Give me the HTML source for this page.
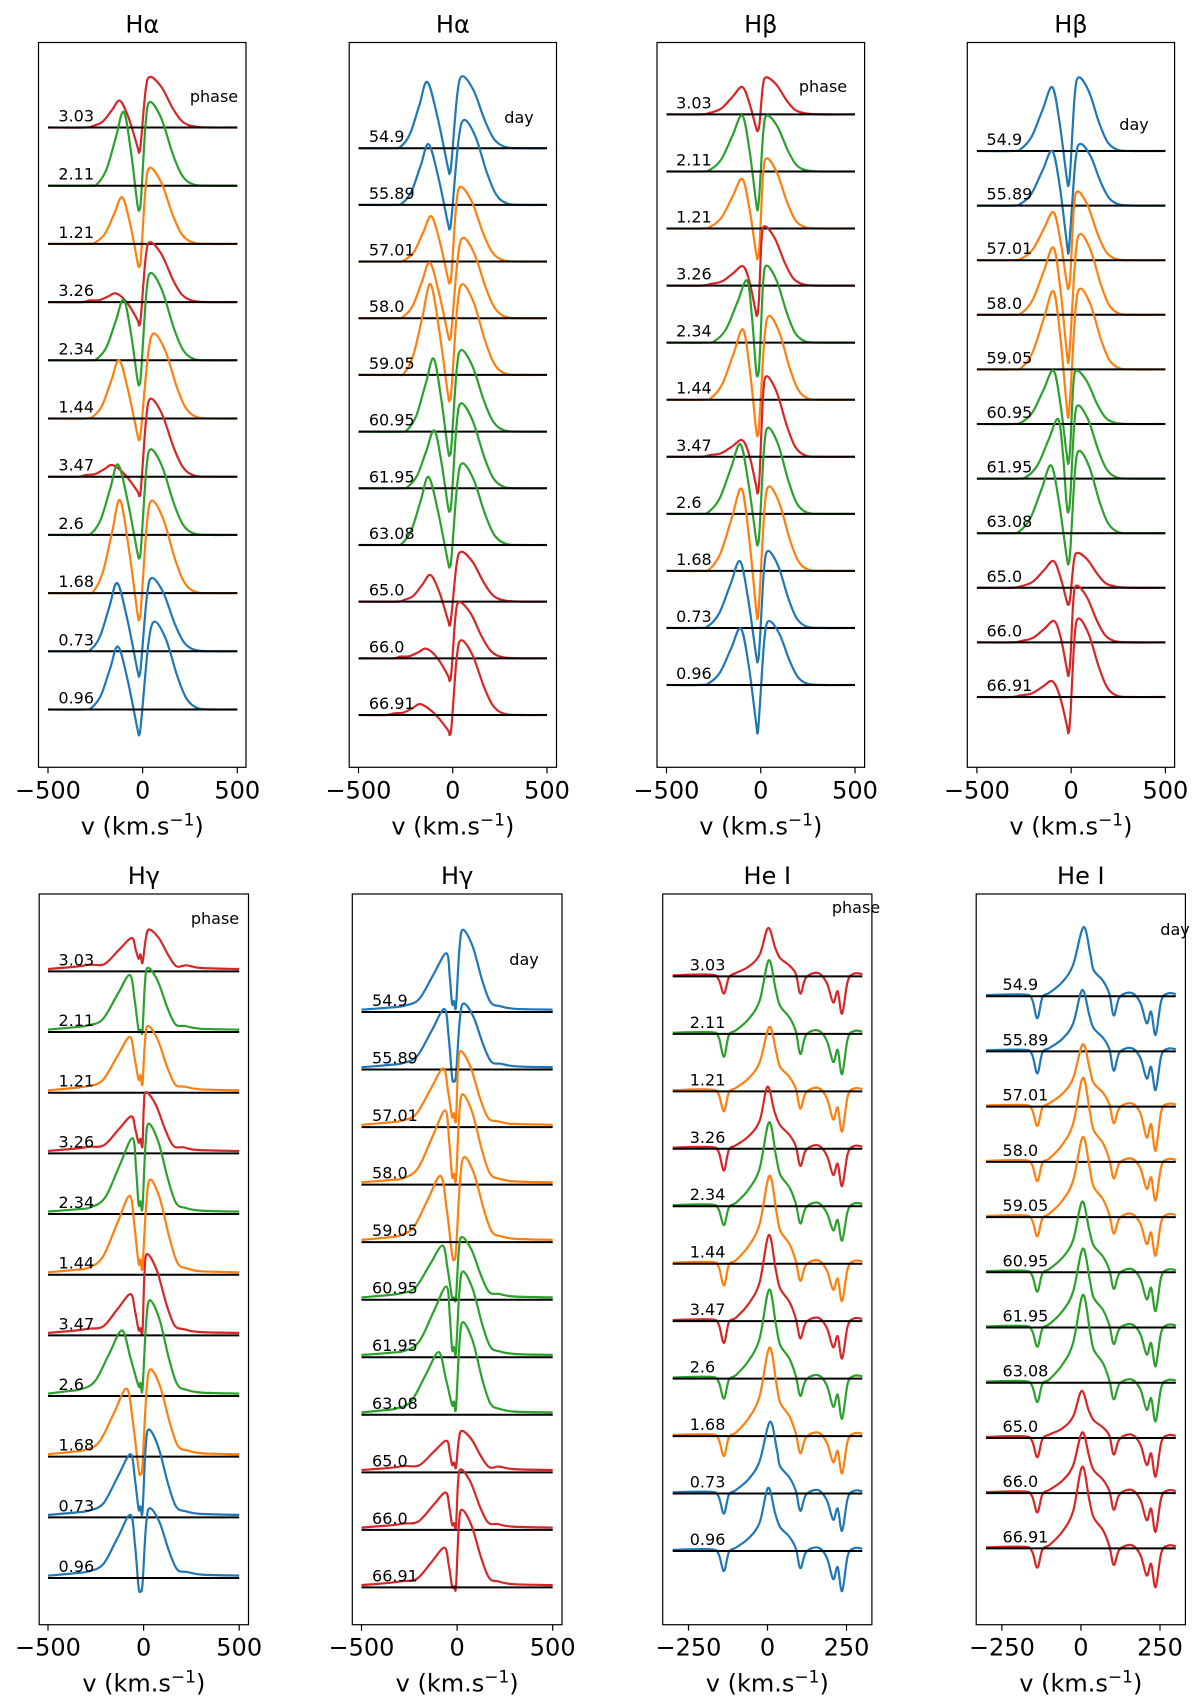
<!DOCTYPE html>
<html><head><meta charset="utf-8"><style>
html,body{margin:0;padding:0;background:#fff}
svg{display:block;font-family:"DejaVu Sans","Liberation Sans",sans-serif}
</style></head><body>
<svg id="fig" width="1200" height="1707" viewBox="0 0 1200 1707" xmlns="http://www.w3.org/2000/svg"></svg>
<script>
// ---- data ----
const phaseLabels = ["3.03","2.11","1.21","3.26","2.34","1.44","3.47","2.6","1.68","0.73","0.96"];
const dayLabels = ["54.9","55.89","57.01","58.0","59.05","60.95","61.95","63.08","65.0","66.0","66.91"];
const phaseColors = ["#d62728","#2ca02c","#ff7f0e","#d62728","#2ca02c","#ff7f0e","#d62728","#2ca02c","#ff7f0e","#1f77b4","#1f77b4"];
const dayColors = ["#1f77b4","#1f77b4","#ff7f0e","#ff7f0e","#ff7f0e","#2ca02c","#2ca02c","#2ca02c","#d62728","#d62728","#d62728"];
const balmerTicks = [-500,0,500];
const heTicks = [-250,0,250];
// [blueV, blueH, dipV, dipH, redV, redH]
const haPhase = [[-120,0.46,-18,-0.43,39,0.87],[-100,1.27,-18,-0.41,39,1.44],[-108,0.8,-18,-0.39,39,1.31],[-140,0.15,-18,-0.40,39,1.03],[-100,1.04,-18,-0.42,43,1.5],[-124,1.0,-18,-0.36,59,1.46],[-160,0.2,-18,-0.33,43,1.34],[-130,1.21,-18,-0.39,43,1.47],[-120,1.6,-18,-0.44,49,1.59],[-134,1.17,-18,-0.42,49,1.26],[-130,1.08,-18,-0.43,63,1.51]];
const haDay = [[-135,1.17,-16,-0.44,51,1.27],[-128,1.07,-16,-0.42,61,1.5],[-114,0.8,-16,-0.38,41,1.32],[-122,0.98,-16,-0.37,55,1.42],[-118,1.6,-16,-0.44,51,1.6],[-102,1.29,-16,-0.41,45,1.44],[-98,1.02,-16,-0.4,45,1.5],[-128,1.2,-16,-0.38,51,1.44],[-118,0.47,-16,-0.42,45,0.88],[-139,0.17,-16,-0.4,35,0.99],[-170,0.19,-16,-0.35,45,1.32]];
const hbPhase = [[-98,0.48,-16,-0.29,29,0.65],[-98,0.98,-16,-0.67,35,0.98],[-98,0.87,-16,-0.53,31,1.23],[-94,0.34,-20,-0.53,20,1.04],[-73,1.09,-16,-0.58,31,1.35],[-94,1.23,-16,-0.63,45,1.47],[-98,0.29,-16,-0.64,31,1.41],[-108,1.22,-16,-0.54,39,1.51],[-102,1.44,-16,-0.83,45,1.48],[-110,1.17,-16,-0.59,39,1.35],[-106,0.99,-16,-0.84,45,1.12]];
const hbDay = [[-100,1.17,-14,-0.63,41,1.35],[-100,1.0,-14,-0.87,49,1.13],[-94,0.88,-14,-0.52,33,1.26],[-94,1.23,-14,-0.87,49,1.48],[-94,1.43,-14,-0.87,49,1.48],[-94,0.98,-14,-0.72,29,0.98],[-69,1.09,-14,-0.61,37,1.34],[-106,1.24,-14,-0.56,43,1.51],[-94,0.49,-14,-0.31,33,0.64],[-90,0.39,-14,-0.61,29,1.04],[-100,0.29,-14,-0.66,39,1.44]];
const hgPhase = [[-62,0.55,-16,0.28,28,0.69],[-72,0.94,-16,0.04,22,1.06],[-72,0.92,-16,0.29,22,1.1],[-64,0.61,-16,0.24,12,1.01],[-58,1.25,-16,0.21,26,1.49],[-72,1.3,-16,0.25,34,1.57],[-68,0.68,-16,0.12,18,1.34],[-113,1.08,-16,0.22,32,1.58],[-88,1.12,-16,-0.28,36,1.44],[-68,1.04,-16,0.18,26,1.45],[-68,1.04,-16,-0.21,32,1.15]];
const hgDay = [[-56,1.02,-16,0.19,30,1.43],[-66,1.05,-16,-0.19,34,1.15],[-72,1.02,-16,0.24,18,1.32],[-62,1.29,-16,0.19,28,1.57],[-86,1.15,-16,-0.29,38,1.48],[-76,0.94,-16,0.04,24,1.09],[-56,1.23,-16,0.18,30,1.49],[-96,1.09,-16,0.23,30,1.61],[-56,0.55,-16,0.17,24,0.72],[-60,0.65,-16,0.12,18,1.05],[-66,0.69,-16,0.02,24,1.35]];
// [peakV, peakH, dip1H, dip2H, dip3H]
const hePhase = [[2,0.84,-0.3,-0.3,-0.65],[4,1.28,-0.4,-0.35,-0.7],[6,1.12,-0.35,-0.3,-0.7],[0,1.08,-0.38,-0.3,-0.65],[5,1.46,-0.33,-0.3,-0.6],[6,1.53,-0.38,-0.3,-0.65],[4,1.5,-0.38,-0.3,-0.65],[5,1.55,-0.35,-0.3,-0.7],[6,1.54,-0.35,-0.3,-0.65],[8,1.25,-0.35,-0.3,-0.65],[2,1.1,-0.35,-0.3,-0.7]];
const heDay = [[8,1.25,-0.4,-0.35,-0.7],[4,1.11,-0.4,-0.35,-0.7],[6,1.13,-0.35,-0.3,-0.8],[6,1.52,-0.35,-0.3,-0.7],[6,1.45,-0.35,-0.3,-0.7],[4,1.28,-0.35,-0.3,-0.7],[6,1.43,-0.35,-0.3,-0.7],[6,1.59,-0.35,-0.3,-0.7],[2,0.85,-0.35,-0.3,-0.7],[4,1.1,-0.35,-0.3,-0.7],[4,1.48,-0.35,-0.3,-0.7]];

const panels = [
 {name:"h-alpha-phase",title:"Hα",note:"phase",bx1:38.5,bx2:246,by1:42.5,by2:767.3,t0:48,t1:237.3,ticks:balmerTicks,b0:127.5,bN:709.5,data:haPhase,labels:phaseLabels,colors:phaseColors,kind:"b",wl:140,wr:200,base:0,lv:-445,nx:214,ny:102,range:500},
 {name:"h-alpha-day",title:"Hα",note:"day",bx1:349.2,bx2:556.5,by1:42.5,by2:767.3,t0:358.5,t1:547,ticks:balmerTicks,b0:148.2,bN:715,data:haDay,labels:dayLabels,colors:dayColors,kind:"b",wl:140,wr:200,base:0,lv:-445,nx:519,ny:123,range:500},
 {name:"h-beta-phase",title:"Hβ",note:"phase",bx1:657,bx2:864.6,by1:42.5,by2:767.3,t0:666.5,t1:855,ticks:balmerTicks,b0:114.4,bN:685,data:hbPhase,labels:phaseLabels,colors:phaseColors,kind:"b",wl:170,wr:180,base:0,lv:-449,nx:823,ny:92,range:500},
 {name:"h-beta-day",title:"Hβ",note:"day",bx1:967.3,bx2:1174.6,by1:42.5,by2:767.3,t0:976.9,t1:1165.4,ticks:balmerTicks,b0:151,bN:697,data:hbDay,labels:dayLabels,colors:dayColors,kind:"b",wl:170,wr:180,base:0,lv:-449,nx:1134,ny:130,range:500},
 {name:"h-gamma-phase",title:"Hγ",note:"phase",bx1:39.2,bx2:248.5,by1:894,by2:1624.7,t0:48,t1:239.2,ticks:balmerTicks,b0:971.4,bN:1578,data:hgPhase,labels:phaseLabels,colors:phaseColors,kind:"b",wl:220,wr:170,base:0.08,lv:-445,nx:215,ny:924,range:500},
 {name:"h-gamma-day",title:"Hγ",note:"day",bx1:352.3,bx2:562,by1:894,by2:1624.7,t0:361.5,t1:552.7,ticks:balmerTicks,b0:1012,bN:1587.4,data:hgDay,labels:dayLabels,colors:dayColors,kind:"b",wl:220,wr:170,base:0.08,lv:-445,nx:524,ny:965,range:500},
 {name:"he-i-phase",title:"He I",note:"phase",bx1:662.7,bx2:871.9,by1:894,by2:1624.7,t0:688.5,t1:846.5,ticks:heTicks,b0:976.4,bN:1551,data:hePhase,labels:phaseLabels,colors:phaseColors,kind:"h",lv:-246,nx:856,ny:913,range:300},
 {name:"he-i-day",title:"He I",note:"day",bx1:976.2,bx2:1185.4,by1:894,by2:1624.7,t0:1001.9,t1:1160,ticks:heTicks,b0:996.2,bN:1548.4,data:heDay,labels:dayLabels,colors:dayColors,kind:"h",lv:-248,nx:1175,ny:935,range:300}
];

const NS="http://www.w3.org/2000/svg";
const svg=document.getElementById("fig");
function mk(tag,attrs,parent){const e=document.createElementNS(NS,tag);for(const k in attrs)e.setAttribute(k,attrs[k]);(parent||svg).appendChild(e);return e;}

function balmerPoints(d,p){
  const [bv,bh,dv,dh,rv,rh]=d, R=p.range, wl=p.wl, wr=p.wr, b=p.base;
  return [[-R,b*0.5],[bv-wl*1.3,b],[bv-wl,b+0.03],[bv-wl*0.65,0.22*bh],[bv-wl*0.3,0.65*bh],[bv,bh],[bv+0.45*(dv-bv),0.55*bh+0.2*dh],[dv-10,0.75*dh],[dv,dh],[dv+10,0.5*dh],[dv+0.6*(rv-dv),0.75*rh],[rv,rh],[rv+0.3*wr,0.8*rh],[rv+0.6*wr,0.38*rh],[rv+0.85*wr,0.12*rh],[rv+1.15*wr,b+0.02],[rv+1.6*wr,b*0.7],[R,b*0.5]];
}
function hePoints(d){
  const [pv,ph,d1,d2,d3]=d;
  return [[-300,0.02],[-180,0.03],[-155,-0.05],[-138,d1],[-122,-0.02],[-100,0.06],[-60,0.2*ph],[-25,0.45*ph],[pv,ph],[pv+22,0.6*ph],[40,0.38*ph],[70,0.22*ph],[90,0.04],[104,d2],[122,-0.02],[160,0.06],[188,-0.12],[208,d3*0.7],[222,d3*0.4],[236,d3],[254,-0.08],[275,0.05],[300,0.04]];
}
function pathFrom(pts){
  let s="M"+pts[0][0].toFixed(1)+","+pts[0][1].toFixed(1);
  for(let i=0;i<pts.length-1;i++){
    const p0=pts[i-1]||pts[i],p1=pts[i],p2=pts[i+1],p3=pts[i+2]||p2;
    const c1=[p1[0]+(p2[0]-p0[0])/6,p1[1]+(p2[1]-p0[1])/6];
    const c2=[p2[0]-(p3[0]-p1[0])/6,p2[1]-(p3[1]-p1[1])/6];
    s+=" C"+c1[0].toFixed(1)+","+c1[1].toFixed(1)+" "+c2[0].toFixed(1)+","+c2[1].toFixed(1)+" "+p2[0].toFixed(1)+","+p2[1].toFixed(1);
  }
  return s;
}

panels.forEach(p=>{
  const g=mk("g",{});
  
  
  const xs=v=>p.t0+(v-p.ticks[0])*(p.t1-p.t0)/(p.ticks[2]-p.ticks[0]);
  const n=p.data.length, sp=(p.bN-p.b0)/(n-1);
  const title=mk("text",{x:(p.bx1+p.bx2)/2,y:p.by1-10,"font-size":24,"text-anchor":"middle",fill:"#000"},g);
  title.textContent=p.title;
  
  
  p.data.forEach((d,i)=>{
    const base=p.b0+i*sp;
    const pts=(p.kind==="b"?balmerPoints(d,p):hePoints(d)).map(q=>[xs(q[0]),base-q[1]*sp]);
    const path=mk("path",{d:pathFrom(pts),fill:"none",stroke:p.colors[i],"stroke-width":2.2,"stroke-linejoin":"round"},g);
    
    
    const bl=mk("line",{x1:xs(-p.range),x2:xs(p.range),y1:base,y2:base,stroke:"#000","stroke-width":2},g);
    
    
    const lt=mk("text",{x:xs(p.lv),y:base-6,"font-size":16,fill:"#000"},g);
    lt.textContent=p.labels[i];
    
    
  });
  const note=mk("text",{x:p.nx,y:p.ny,"font-size":16,"text-anchor":"middle",fill:"#000"},g);
  note.textContent=p.note;
  
  
  const box=mk("rect",{x:p.bx1,y:p.by1,width:p.bx2-p.bx1,height:p.by2-p.by1,fill:"none",stroke:"#000","stroke-width":1.2},g);
  
  
  p.ticks.forEach(t=>{
    const tk=mk("line",{x1:xs(t),x2:xs(t),y1:p.by2,y2:p.by2+6,stroke:"#000","stroke-width":1.2},g);
    
    
    const tl=mk("text",{x:xs(t),y:p.by2+31,"font-size":24,"text-anchor":"middle",fill:"#000"},g);
    tl.textContent=(t<0?"\u2212":"")+Math.abs(t);
    
    
  });
  const xl=mk("text",{x:(p.bx1+p.bx2)/2,y:p.by2+67,"font-size":24,"text-anchor":"middle",fill:"#000"},g);
  xl.innerHTML='v (km.s<tspan dy="-9" font-size="17">\u22121</tspan><tspan dy="9">)</tspan>';
  
  
});
</script>
</body></html>
